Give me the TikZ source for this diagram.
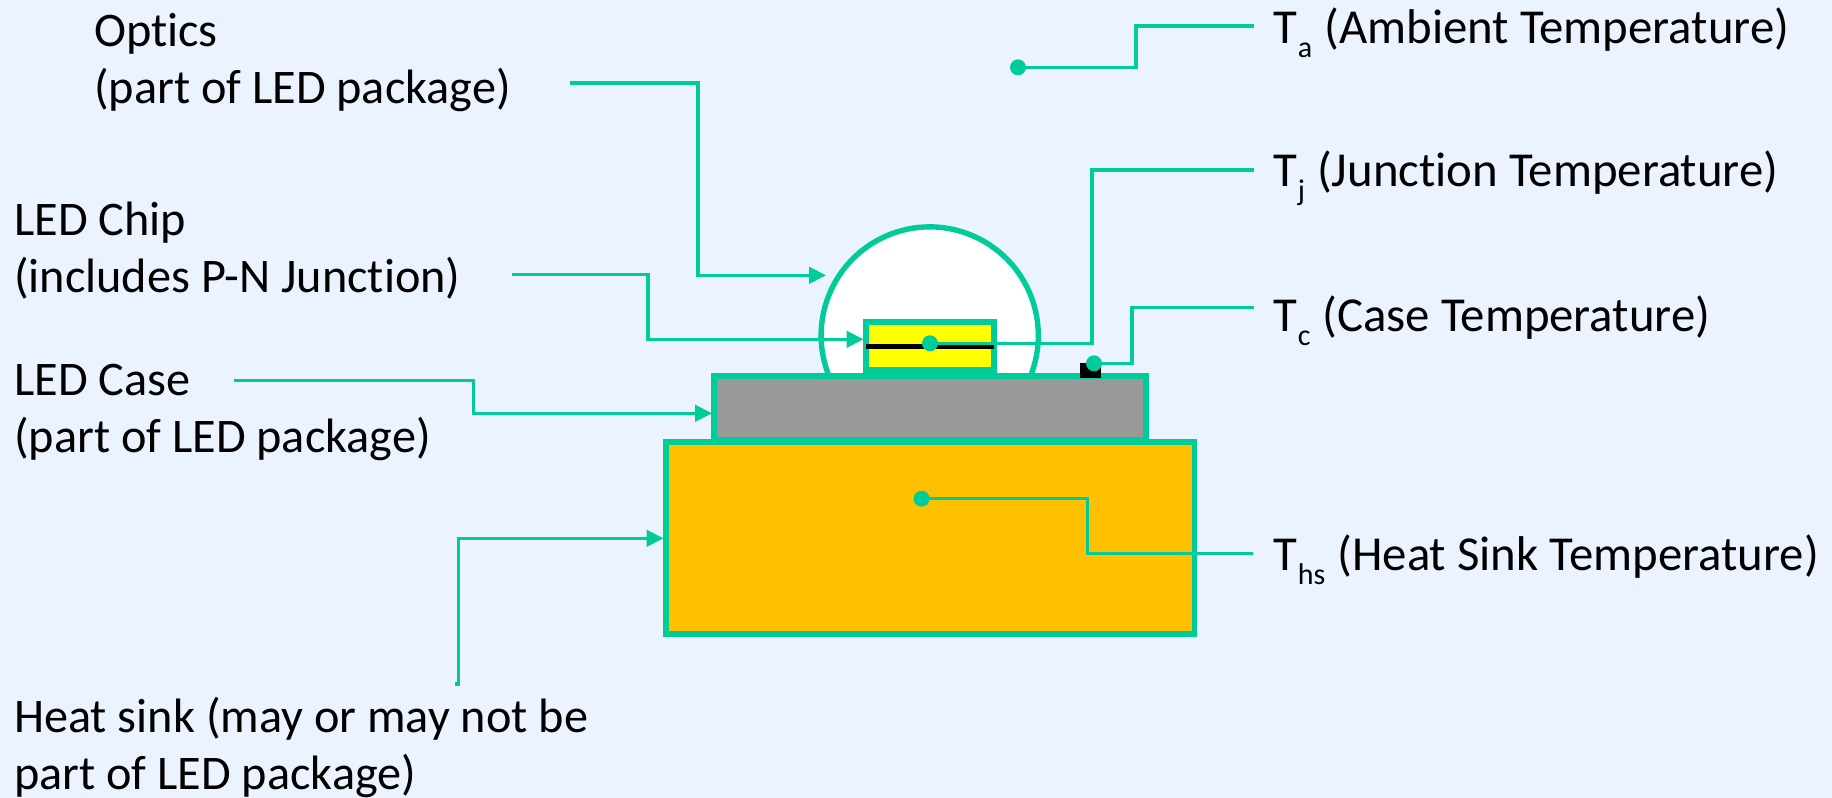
\documentclass[tikz,border=0pt]{standalone}
\usepackage{fontspec}
\setmainfont{Carlito}[Ligatures=CommonOff]
\usetikzlibrary{arrows.meta}
\definecolor{pagebg}{HTML}{EAF3FF}
\definecolor{leadgreen}{HTML}{00CC99}
\definecolor{casegray}{HTML}{999999}
\definecolor{sinkgold}{HTML}{FFC000}
\definecolor{chipyellow}{HTML}{FFFF00}
\newcommand{\tsub}[1]{T\kern1pt\raisebox{-14pt}{\fontsize{30}{30}\selectfont #1}\kern1pt\relax}
\tikzset{
  part/.style={draw=leadgreen,line width=5.4pt,inner sep=0pt,outer sep=0pt},
  lead/.style={draw=leadgreen,line width=3.2pt,line join=miter},
  tiplead/.style={lead,-{Triangle[length=17pt,width=16.5pt]}},
  spot/.style={circle,fill=leadgreen,inner sep=0pt,minimum size=16pt},
  label/.style={inner sep=0pt,anchor=base west,align=left,font=\fontsize{48.25}{57.5}\selectfont},
  templabel/.style={label,font=\fontsize{48.8}{58}\selectfont}
}
\begin{document}
\begin{tikzpicture}[x=1pt,y=-1pt]
  \fill[pagebg] (0,0) rectangle (1832,798);
  \useasboundingbox (0,0) rectangle (1832,798);
  % package
  \node[part,fill=sinkgold,minimum width=528.5pt,minimum height=192pt] (sink) at (930.2,538) {};
  \filldraw[draw=leadgreen,line width=5.4pt,fill=white] (828,373.5) arc[start angle=159.5,end angle=380.5,radius=108.6];
  \node[part,fill=casegray,minimum width=432pt,minimum height=64pt] (case) at (930,408) {};
  \node[part,fill=chipyellow,minimum width=127.7pt,minimum height=48pt] (chip) at (930,346) {};
  \fill[black] (866,343.5) rectangle (994,348.5);
  \node[fill=black,inner sep=0pt,minimum width=21pt,minimum height=15pt] (sensor) at (1090,370.2) {};
  % points
  \node[spot] (ta) at (1018,67.3) {};
  \node[spot] (tj) at (930,343.3) {};
  \node[spot] (tc) at (1094,363.3) {};
  \node[spot] (ths) at (921.6,498.7) {};
  % label texts
  \node[label] (optics) at (94,103.5) {Optics\\(part of LED package)};
  \node[label] (ledchip) at (14,292.5) {LED Chip\\(includes P-N Junction)};
  \node[label] (ledcase) at (14,452.5) {LED Case\\(part of LED package)};
  \node[label] (heatsink) at (14,789.5) {Heat sink (may or may not be\\part of LED package)};
  \node[templabel] (tatext) at (1273,43) {\tsub{a} (Ambient Temperature)};
  \node[templabel] (tjtext) at (1273,186.5) {\tsub{j} (Junction Temperature)};
  \node[templabel] (tctext) at (1273,331) {\tsub{c} (Case Temperature)};
  \node[templabel] (thstext) at (1273,570) {\tsub{hs} (Heat Sink Temperature)};
  % free ends
  \coordinate (opticsfrom) at (570,83);
  \coordinate (opticsbend) at (698,275.3);
  \coordinate (opticstip) at (826,275.3);
  \coordinate (chipfrom) at (511.6,274.5);
  \coordinate (chipbend) at (648,339.3);
  \coordinate (chiptip) at (863.5,339.3);
  \coordinate (casefrom) at (233.6,380.8);
  \coordinate (casebend) at (473.6,413.3);
  \coordinate (casetip) at (712,413.3);
  \coordinate (sinkfrom) at (455,684);
  \coordinate (sinkbend) at (458.3,684);
  \coordinate (sinkcorner) at (458.3,538.3);
  \coordinate (sinktip) at (663.5,538.3);
  \coordinate (tabend) at (1136,26);
  \coordinate (taend) at (1254,26);
  \coordinate (tjbend) at (1092,170);
  \coordinate (tjend) at (1254,170);
  \coordinate (tcbend) at (1132,307.3);
  \coordinate (tcend) at (1254,307.3);
  \coordinate (thsbend) at (1087.4,553.6);
  \coordinate (thsend) at (1253,553.6);
  % leads
  \draw[tiplead] (opticsfrom) -| (opticsbend) -- (opticstip);
  \draw[tiplead] (chipfrom) -| (chipbend) -- (chiptip);
  \draw[tiplead] (casefrom) -| (casebend) -- (casetip);
  \draw[tiplead] (sinkfrom) -- (sinkbend) -- (sinkcorner) -- (sinktip);
  \draw[lead] (ta.center) -| (tabend) -- (taend);
  \draw[lead] (tj.center) -| (tjbend) -- (tjend);
  \draw[lead] (tc.center) -| (tcbend) -- (tcend);
  \draw[lead] (ths.center) -| (thsbend) -- (thsend);
\end{tikzpicture}
\end{document}
